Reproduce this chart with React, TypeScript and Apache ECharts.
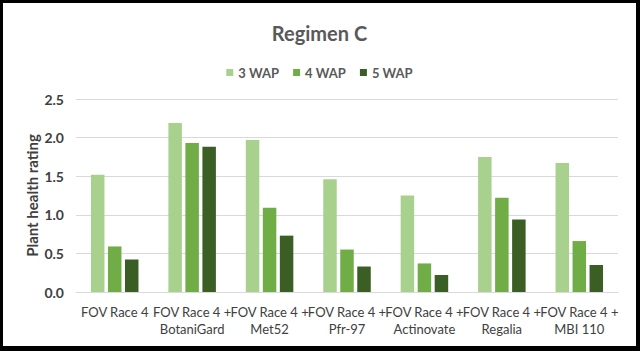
import React, { useEffect, useRef } from "react";
import * as echarts from "echarts";

const categories = [
  "FOV Race 4",
  "FOV Race 4 +\nBotaniGard",
  "FOV Race 4 +\nMet52",
  "FOV Race 4 +\nPfr-97",
  "FOV Race 4 +\nActinovate",
  "FOV Race 4 +\nRegalia",
  "FOV Race 4 +\nMBI 110",
];
const wap3 = [1.52, 2.19, 1.97, 1.46, 1.25, 1.75, 1.67];
const wap4 = [0.59, 1.93, 1.09, 0.55, 0.37, 1.22, 0.66];
const wap5 = [0.42, 1.88, 0.73, 0.33, 0.22, 0.94, 0.35];
const seriesNames = ["3 WAP", "4 WAP", "5 WAP"];
const colors = ["#a9d18e", "#70ad47", "#3b5e25"];

const FONT = "Lato, 'Open Sans', sans-serif";

export default function App() {
  const ref = useRef<HTMLDivElement>(null);
  useEffect(() => {
    if (!ref.current) return;
    const chart = echarts.init(ref.current, undefined, { renderer: "svg" });
    const data = [wap3, wap4, wap5];
    chart.setOption({
      animation: false,
      backgroundColor: "#ffffff",
      title: {
        text: "Regimen C",
        left: "center",
        top: 15,
        textStyle: { color: "#595959", fontSize: 20, fontWeight: "bold", fontFamily: FONT },
      },
      legend: {
        top: 58,
        left: "center",
        itemWidth: 7,
        itemHeight: 7,
        itemGap: 14,
        icon: "rect",
        textStyle: { color: "#595959", fontSize: 13, fontFamily: FONT, fontWeight: "bold" },
        data: seriesNames,
      },
      grid: { left: 73, right: 18, top: 96, bottom: 54, containLabel: false },
      xAxis: {
        type: "category",
        data: categories,
        axisLine: { lineStyle: { color: "#d9d9d9" } },
        axisTick: { show: false },
        axisLabel: {
          interval: 0,
          color: "#404040",
          fontSize: 13,
          fontFamily: FONT,
          fontWeight: "normal",
          lineHeight: 17,
          margin: 11,
        },
      },
      yAxis: {
        type: "value",
        min: 0,
        max: 2.5,
        interval: 0.5,
        name: "Plant health rating",
        nameLocation: "middle",
        nameGap: 37,
        nameMoveOverlap: false,
        nameTextStyle: { color: "#404040", fontSize: 15, fontWeight: "bold", fontFamily: FONT },
        axisLabel: {
          formatter: (v: number) => v.toFixed(1),
          color: "#404040",
          fontSize: 14,
          fontWeight: "bold",
          fontFamily: FONT,
          margin: 12,
        },
        splitLine: { lineStyle: { color: "#d9d9d9" } },
        axisLine: { show: false },
        axisTick: { show: false },
      },
      series: seriesNames.map((n, i) => ({
        name: n,
        type: "bar",
        data: data[i],
        barWidth: 13.5,
        barGap: "26%",
        itemStyle: { color: colors[i] },
      })),
    });
    return () => chart.dispose();
  }, []);
  return (
    <div
      style={{
        position: "fixed",
        left: 0,
        top: 0,
        width: 640,
        height: 351,
        boxSizing: "border-box",
        borderStyle: "solid",
        borderColor: "#000",
        borderWidth: "3px 4px 5px 3px",
        background: "#fff",
      }}
    >
      <div ref={ref} style={{ width: 633, height: 343 }} />
    </div>
  );
}
